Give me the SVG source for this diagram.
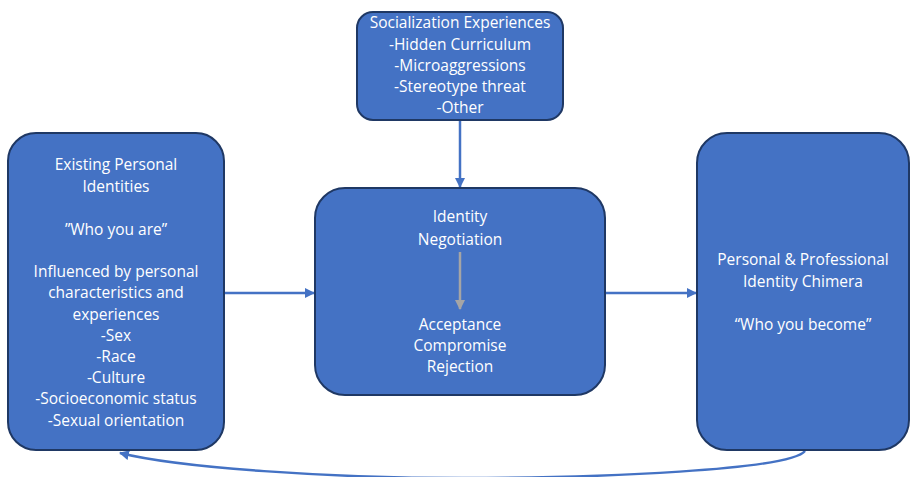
<svg xmlns="http://www.w3.org/2000/svg" width="910" height="477" viewBox="0 0 910 477">
<style>
.box{fill:#4472C4;stroke:#1F3864;stroke-width:2}
.t{fill:#fff;font-family:"Open Sans","Noto Sans",sans-serif;font-size:15.5px;text-anchor:middle}
.c{fill:none;stroke:#4472C4;stroke-width:2.5}
</style>
<defs>
<marker id="ah" viewBox="0 0 10 10" refX="9" refY="5" markerWidth="4" markerHeight="4" orient="auto" markerUnits="strokeWidth"><path d="M0,0L10,5L0,10z" fill="#4472C4"/></marker>
<marker id="ag" viewBox="0 0 10 10" refX="9" refY="5" markerWidth="4" markerHeight="4" orient="auto" markerUnits="strokeWidth"><path d="M0,0L10,5L0,10z" fill="#A5A5A5"/></marker>
</defs>
<g id="connectors">
<line class="c" x1="460" y1="121" x2="460" y2="187" marker-end="url(#ah)"/>
<line class="c" x1="225" y1="293" x2="314" y2="293" marker-end="url(#ah)"/>
<line class="c" x1="606" y1="293" x2="696" y2="293" marker-end="url(#ah)"/>
<path class="c" d="M805,451 C790,470 600,478 462,478 C330,478 180,468 120,453" marker-end="url(#ah)"/>
</g>
<g id="socialization">
<rect class="box" x="357" y="12" width="206" height="108" rx="16"/>
<text class="t" x="460" y="28">Socialization Experiences</text>
<text class="t" x="460" y="50">-Hidden Curriculum</text>
<text class="t" x="460" y="71">-Microaggressions</text>
<text class="t" x="460" y="92">-Stereotype threat</text>
<text class="t" x="460" y="113">-Other</text>
</g>
<g id="existing">
<rect class="box" x="8" y="133" width="216" height="317" rx="28"/>
<text class="t" x="116" y="170">Existing Personal</text>
<text class="t" x="116" y="192">Identities</text>
<text class="t" x="116" y="235">”Who you are”</text>
<text class="t" x="116" y="277">Influenced by personal</text>
<text class="t" x="116" y="298">characteristics and</text>
<text class="t" x="116" y="320">experiences</text>
<text class="t" x="116" y="341">-Sex</text>
<text class="t" x="116" y="362">-Race</text>
<text class="t" x="116" y="383">-Culture</text>
<text class="t" x="116" y="404">-Socioeconomic status</text>
<text class="t" x="116" y="426">-Sexual orientation</text>
</g>
<g id="negotiation">
<rect class="box" x="315" y="188" width="290" height="207" rx="30"/>
<text class="t" x="460" y="222">Identity</text>
<text class="t" x="460" y="245">Negotiation</text>
<line x1="460" y1="252" x2="460" y2="309" stroke="#A5A5A5" stroke-width="2.5" marker-end="url(#ag)"/>
<text class="t" x="460" y="330">Acceptance</text>
<text class="t" x="460" y="351">Compromise</text>
<text class="t" x="460" y="372">Rejection</text>
</g>
<g id="chimera">
<rect class="box" x="697" y="133" width="212" height="317" rx="30"/>
<text class="t" x="803" y="265">Personal &amp; Professional</text>
<text class="t" x="803" y="287">Identity Chimera</text>
<text class="t" x="803" y="330">“Who you become”</text>
</g>
</svg>
